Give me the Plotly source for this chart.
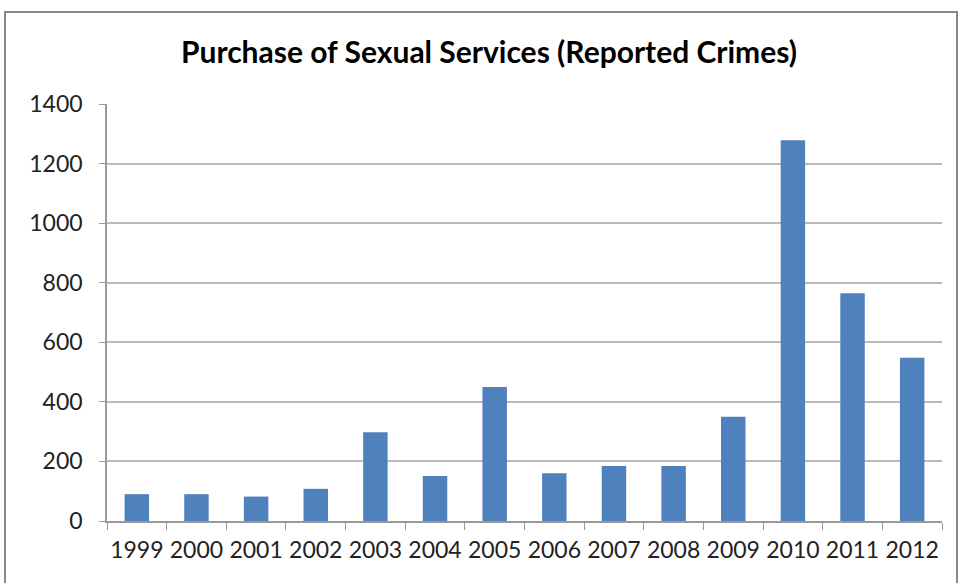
import plotly.graph_objects as go

years = ["1999", "2000", "2001", "2002", "2003", "2004", "2005",
         "2006", "2007", "2008", "2009", "2010", "2011", "2012"]
crimes = [90, 90, 82, 108, 298, 151, 450, 160, 185, 185, 350, 1278, 765, 548]

W, H = 959, 583
L, R, T, B = 107, 17, 104, 62

fig = go.Figure(go.Bar(x=years, y=crimes, marker=dict(color="#4F81BD", line=dict(width=0)),
                       width=0.41))

fig.update_layout(
    width=W, height=H,
    margin=dict(l=L, r=R, t=T, b=B),
    paper_bgcolor="white", plot_bgcolor="white",
    showlegend=False,
    title=dict(text="<b>Purchase of Sexual Services (Reported Crimes)</b>",
               x=489 / W, xanchor="center", y=1 - 52 / H, yanchor="middle",
               font=dict(family="Lato", size=30, color="black")),
    font=dict(family="Lato", size=23, color="#222222"),
)
fig.update_xaxes(type="category", range=[-0.5, 13.5], showline=True, linecolor="#999999",
                 linewidth=1.5, ticks="outside", ticklen=7, tickcolor="#999999",
                 tickson="boundaries", showgrid=False, ticklabelstandoff=8,
                 tickangle=0, automargin=False)
fig.update_yaxes(range=[0, 1400], dtick=200, showline=True, linecolor="#999999",
                 linewidth=1.5, ticks="outside", ticklen=6, tickcolor="#999999",
                 showgrid=True, gridcolor="#BBBBBB", gridwidth=1.5, zeroline=False,
                 ticklabelstandoff=12, automargin=False)

# outer chart frame
fig.add_shape(type="rect", xref="paper", yref="paper",
              x0=(5 - L) / (W - L - R), x1=(957 - L) / (W - L - R),
              y0=(H - B - 600) / (H - T - B), y1=(H - B - 12) / (H - T - B),
              line=dict(color="#888888", width=2), fillcolor="rgba(0,0,0,0)", layer="below")

fig.write_html("out.html", config={"displayModeBar": False},
               post_script="document.body.style.margin='0';")
